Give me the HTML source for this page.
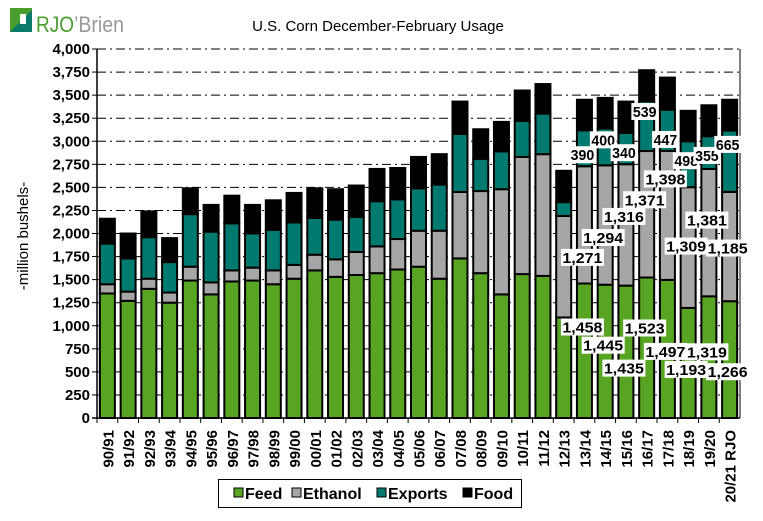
<!DOCTYPE html>
<html><head><meta charset="utf-8"><style>
body{margin:0;background:#fff;width:763px;height:516px;overflow:hidden;font-family:"Liberation Sans",Arial,sans-serif}
svg text{font-family:"Liberation Sans",Arial,sans-serif}
</style></head><body>
<svg id="c" width="763" height="516" viewBox="0 0 763 516">
<g>
<rect x="10" y="8" width="22" height="24" fill="#4a9e2e"/>
<polygon points="10,32 32,10 32,32" fill="#0a7a6a"/>
<rect x="20" y="14" width="6" height="10" fill="#fff"/>
<text x="36" y="32" font-size="22" fill="#4a9e2e" textLength="38" lengthAdjust="spacingAndGlyphs">RJO</text>
<text x="74" y="32" font-size="22" fill="#999" textLength="50" lengthAdjust="spacingAndGlyphs">’Brien</text>
</g>
<text x="378" y="31" font-size="15" text-anchor="middle">U.S. Corn December-February Usage</text>
<text transform="translate(28,236) rotate(-90)" font-size="15" text-anchor="middle">-million bushels-</text>
<g id="grid"></g><g id="bars"></g><g id="axes"></g><g id="labels"></g>
<g>
<rect x="218.5" y="479.5" width="303" height="28" fill="#fff" stroke="#000"/>
<g><rect x="234" y="488" width="9" height="9" fill="#58a524" stroke="#000"/><text x="245" y="499" font-size="16" font-weight="bold">Feed</text></g>
<g><rect x="292" y="488" width="9" height="9" fill="#a6a6a6" stroke="#000"/><text x="303" y="499" font-size="16" font-weight="bold">Ethanol</text></g>
<g><rect x="377" y="488" width="9" height="9" fill="#007a6e" stroke="#000"/><text x="388" y="499" font-size="16" font-weight="bold">Exports</text></g>
<g><rect x="463" y="488" width="9" height="9" fill="#000" stroke="#000"/><text x="474" y="499" font-size="16" font-weight="bold">Food</text></g>
</g>
</svg>
<script>
const categories=["90/91","91/92","92/93","93/94","94/95","95/96","96/97","97/98","98/99","99/00","00/01","01/02","02/03","03/04","04/05","05/06","06/07","07/08","08/09","09/10","10/11","11/12","12/13","13/14","14/15","15/16","16/17","17/18","18/19","19/20","20/21 RJO"];
const feed=[1350,1270,1400,1250,1490,1340,1480,1490,1450,1510,1600,1530,1550,1570,1610,1640,1510,1730,1570,1340,1560,1540,1090,1458,1445,1435,1523,1497,1193,1319,1266];
const ethanol=[100,100,110,110,150,130,120,140,150,150,170,190,250,290,330,390,520,720,890,1140,1270,1320,1100,1271,1294,1316,1371,1398,1309,1381,1185];
const exportsV=[440,360,450,330,570,550,510,370,440,460,400,430,380,490,430,460,500,630,350,410,390,440,150,390,400,340,539,447,498,355,665];
const food=[270,270,280,260,280,290,300,310,320,320,320,330,340,350,340,340,330,350,320,320,330,320,340,331,331,339,337,348,330,335,334];
const yTicks=[0,250,500,750,1000,1250,1500,1750,2000,2250,2500,2750,3000,3250,3500,3750,4000];
const labelFrom=23;
// label placement offsets (layout only, px)
const feedDy=[44,61,83,51,72,62,56,71];
const ethDy=[33,13,-8,-14,-36,-1,-12,2];
const expDy=[-11,-25,-11,-39,-11,-26,-13,-47];
const NS="http://www.w3.org/2000/svg";
const L=97,R=740,T=49,B=418,MAX=4000;
const y=v=>B-v*(B-T)/MAX;
const bw=(R-L)/categories.length;
const x=i=>L+bw*i+bw/2;
function mk(tag,attrs,parent){const e=document.createElementNS(NS,tag);for(const k in attrs)e.setAttribute(k,attrs[k]);parent.appendChild(e);return e;}
const grid=document.getElementById('grid'),bars=document.getElementById('bars'),axes=document.getElementById('axes'),labels=document.getElementById('labels');
yTicks.forEach(t=>{
  if(t>0){const g=mk('line',{x1:L,x2:R,y1:y(t),y2:y(t),stroke:'#000','stroke-width':1,'stroke-dasharray':'9,4,2,4'},grid);
  
  }
  mk('line',{x1:L-5,x2:L,y1:y(t),y2:y(t),stroke:'#000'},axes);
  const tx=mk('text',{x:L-7,y:y(t)+5,'font-size':15,'font-weight':'bold','text-anchor':'end'},axes);
  tx.textContent=t.toLocaleString('en-US');
  
  
});
mk('line',{x1:L,x2:L,y1:T,y2:B,stroke:'#000','stroke-width':1.5},axes);
mk('line',{x1:R,x2:R,y1:T,y2:B,stroke:'#000','stroke-width':1},axes);
mk('line',{x1:L-5,x2:R,y1:B,y2:B,stroke:'#000','stroke-width':1.5},axes);
const colors=['#58a524','#a6a6a6','#007a6e','#000'];
const names=['feed','ethanol','exports','food'];
categories.forEach((c,i)=>{
  mk('line',{x1:L+bw*i,x2:L+bw*i,y1:B,y2:B+5,stroke:'#000'},axes);
  const vals=[feed[i],ethanol[i],exportsV[i],food[i]];
  let base=0;
  vals.forEach((v,s)=>{
    const r=mk('rect',{x:x(i)-7.5,y:y(base+v),width:15,height:y(base)-y(base+v),fill:colors[s],stroke:'#000','stroke-width':2},bars);
    
    
    base+=v;
  });
  const lt=mk('text',{transform:`translate(${x(i)+6},${B+12}) rotate(-90)`,'font-size':15,'font-weight':'bold','text-anchor':'end'},axes);
  lt.textContent=c;
  
  
});
categories.forEach((c,i)=>{
  if(i<labelFrom)return;
  const k=i-labelFrom;
  const yf=y(feed[i]),ye=y(feed[i]+ethanol[i]);
  const items=[[feed[i],yf+feedDy[k%8]],[ethanol[i],(yf+ye)/2+ethDy[k%8]],[exportsV[i],ye+expDy[k%8]]];
  items.forEach(([v,yy],s)=>{
    const txt=v.toLocaleString('en-US');
    const w=txt.length*8.2+2;
    const cx=x(i)-2;
    const g=mk('g',{},labels);
    
    
    mk('rect',{x:cx-w/2,y:yy-9,width:w,height:17,fill:'#fff'},g);
    const t=mk('text',{x:cx,y:yy+5,'font-size':15,'font-weight':'bold','text-anchor':'middle','textLength':w-3,'lengthAdjust':'spacingAndGlyphs'},g);
    t.textContent=txt;
  });
});
</script>
</body></html>
